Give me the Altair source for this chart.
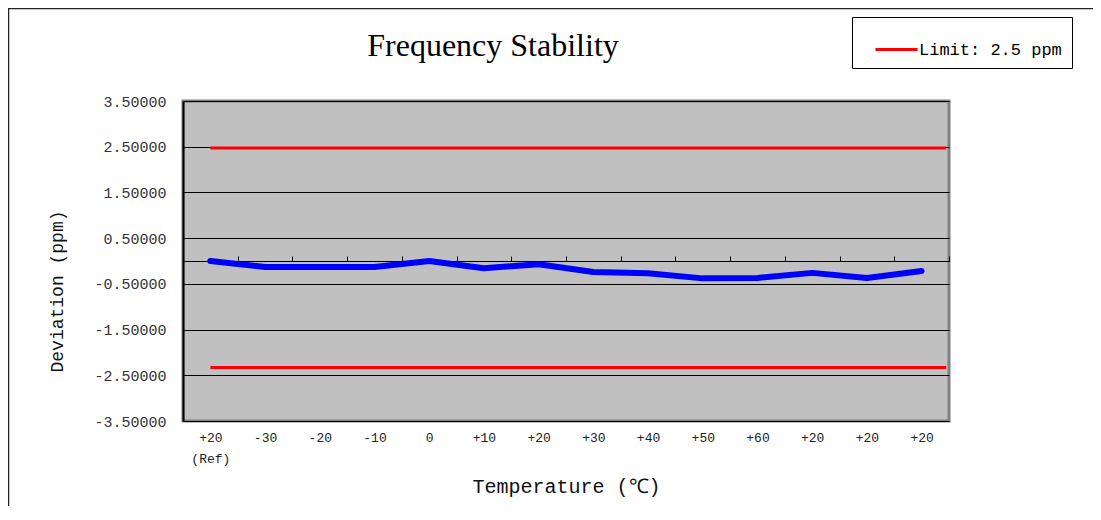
import json
import altair as alt
import pandas as pd

# ---- data ----
x_labels = [["+20", "(Ref)"], "-30", "-20", "-10", "0", "+10", "+20",
            "+30", "+40", "+50", "+60", "+20", "+20", "+20"]
deviation = [0.0, -0.13, -0.13, -0.13, 0.0, -0.16, -0.07,
             -0.24, -0.27, -0.38, -0.37, -0.26, -0.37, -0.22]
limit_name = "Limit: 2.5 ppm"
limit_upper = 2.47
limit_lower = -2.33
limit_x = [0, 13.45]
y_ticks = [-3.5, -2.5, -1.5, -0.5, 0.5, 1.5, 2.5, 3.5]
cat_bounds = [i + 0.5 for i in range(-1, 14)]

dev_df = pd.DataFrame({"idx": list(range(len(deviation))), "dev": deviation})
lim_rows = []
for which, val in (("upper", limit_upper), ("lower", limit_lower)):
    for xv in limit_x:
        lim_rows.append({"x": xv, "y": val, "which": which, "series": limit_name})
lim_df = pd.DataFrame(lim_rows)
frame_df = pd.DataFrame({"k": [0]})

MONO = "Liberation Mono"
xs = alt.Scale(domain=[-0.5, 13.5], nice=False, zero=False)
ys = alt.Scale(domain=[-3.5, 3.5], nice=False, zero=False)

label_expr = json.dumps(x_labels) + "[datum.value]"

bottom_axis = alt.Axis(
    orient="bottom", values=list(range(len(x_labels))), labelExpr=label_expr,
    ticks=False, domain=False, grid=False, labelAngle=0,
    labelFont=MONO, labelFontSize=13, labelColor="#222", labelPadding=10,
    labelLineHeight=21, labelOverlap=False,
    title="Temperature (\u2103)", titleFont=MONO, titleFontSize=20,
    titleFontWeight="normal", titleColor="#111", titlePadding=11,
)
zero_axis = alt.Axis(
    orient="top", offset=-160, values=cat_bounds, labels=False,
    ticks=True, tickSize=5, tickColor="#000", tickWidth=1,
    domain=True, domainColor="#000", domainWidth=1, grid=False, title=None,
)
y_axis = alt.Axis(
    orient="left", values=y_ticks,
    labelExpr="replace(format(datum.value, '.5f'), '\u2212', '-')",
    grid=True, gridColor="#000", gridWidth=1, ticks=False,
    domain=True, domainColor="#000", domainWidth=2,
    labelFont=MONO, labelFontSize=15, labelColor="#333", labelPadding=17,
    title="Deviation (ppm)", titleFont=MONO, titleFontSize=18,
    titleFontWeight="normal", titleColor="#111",
    titleX=-126, titleY=190, titleAngle=-90, titleAlign="center", titleBaseline="middle",
)

frame = alt.Chart(frame_df).mark_rect(
    fillOpacity=0, stroke="#222", strokeWidth=1.5
).encode(
    x=alt.value(-174.5), x2=alt.value(2000), y=alt.value(-92.5), y2=alt.value(1000)
)

limits = alt.Chart(lim_df).mark_line(strokeWidth=3).encode(
    x=alt.X("x:Q", scale=xs, axis=zero_axis),
    y=alt.Y("y:Q", scale=ys, axis=y_axis),
    detail="which:N",
    color=alt.Color(
        "series:N",
        scale=alt.Scale(domain=[limit_name], range=["#FF0000"]),
        legend=alt.Legend(
            title=None, orient="none", legendX=669, legendY=-84,
            strokeColor="#000", fillColor="white", padding=10,
            symbolType="stroke", symbolStrokeWidth=3, symbolSize=1764,
            symbolOffset=12, labelOffset=0,
            labelFont=MONO, labelFontSize=17, labelColor="#000",
        ),
    ),
)

dev_line = alt.Chart(dev_df).mark_line(
    color="#0000FF", strokeWidth=6, strokeCap="round", strokeJoin="round"
).encode(
    x=alt.X("idx:Q", scale=xs, axis=bottom_axis),
    y=alt.Y("dev:Q", scale=ys, axis=y_axis),
)

chart = alt.layer(frame, limits, dev_line).resolve_axis(x="independent").properties(
    width=766, height=320,
    autosize=alt.AutoSizeParams(type="none"),
    padding={"left": 175, "top": 93, "right": 144, "bottom": 85},
    title=alt.Title(
        "Frequency Stability", font="Liberation Serif", fontSize=32,
        fontWeight="normal", color="#000", anchor="middle", dx=-73, offset=-55,
        frame="group",
    ),
    background="white",
).configure_view(
    fill="#C0C0C0", stroke="#808080", strokeWidth=3
)

chart.save("out.html", embed_options={"renderer": "svg", "actions": False})
